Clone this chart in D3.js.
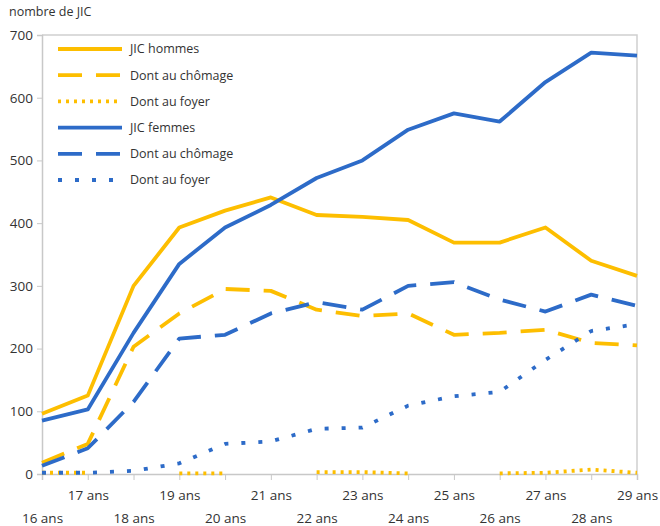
<!DOCTYPE html>
<html>
<head>
<meta charset="utf-8">
<script src="https://cdn.jsdelivr.net/npm/d3@7"></script>
<style>
  body { margin: 0; background: #fff; }
  text { font-family: "Open Sans", sans-serif; fill: #333; }
</style>
</head>
<body>
<div id="chart"></div>
<script>
// ages (categories)
var ages = ["16 ans","17 ans","18 ans","19 ans","20 ans","21 ans","22 ans","23 ans","24 ans","25 ans","26 ans","27 ans","28 ans","29 ans"];

// series values (null = no value)
var hommes        = [96, 125, 300, 393, 420, 441, 413, 410, 405, 369, 369, 393, 340, 316];
var hommesChomage = [18, 48, 203, 256, 295, 292, 262, 252, 256, 222, 225, 230, 209, 205];
var hommesFoyer   = [2, 2, null, 1, 1, null, 3, 3, 1, null, 1, 2, 7, 2];
var femmes        = [85, 103, 225, 335, 393, 429, 472, 500, 549, 575, 562, 625, 672, 667];
var femmesChomage = [13, 41, 115, 216, 222, 256, 274, 262, 300, 306, 278, 259, 286, 268];
var femmesFoyer   = [2, 2, 5, 17, 48, 52, 72, 74, 109, 124, 131, 182, 228, 239];

var yTicks = [0, 100, 200, 300, 400, 500, 600, 700];

var yellow = "#fdbe00", blue = "#2d6bc8";

var series = [
    {name: "JIC hommes", values: hommes, color: yellow, dash: null},
    {name: "Dont au chômage", values: hommesChomage, color: yellow, dash: "24,14"},
    {name: "Dont au foyer", values: hommesFoyer, color: yellow, dash: "3,5"},
    {name: "JIC femmes", values: femmes, color: blue, dash: null},
    {name: "Dont au chômage", values: femmesChomage, color: blue, dash: "24,14"},
    {name: "Dont au foyer", values: femmesFoyer, color: blue, dash: "4,13"}
];

var margin = {top: 35, right: 23, bottom: 52, left: 42},
    width = 660 - margin.left - margin.right,
    height = 526 - margin.top - margin.bottom;

var svg = d3.select("#chart").append("svg")
    .attr("width", 660)
    .attr("height", 526);

svg.append("text")
    .attr("x", 9)
    .attr("y", 16)
    .style("font-size", "12.5px")
    .text("nombre de JIC");

var g = svg.append("g")
    .attr("transform", "translate(" + margin.left + "," + margin.top + ")");

var x = d3.scalePoint().domain(ages).range([0, width]);
var y = d3.scaleLinear().domain([0, 700]).range([height, 0]);

// frame (top and right)
g.append("path")
    .attr("d", "M0,0H" + width + "V" + height)
    .attr("fill", "none")
    .attr("stroke", "#d0d0d0")
    .attr("stroke-width", 1.5);

// y axis
var yAxis = g.append("g")
    .call(d3.axisLeft(y).tickValues(yTicks).tickSize(5).tickPadding(4));
yAxis.select(".domain").attr("stroke", "#c8c8c8").attr("stroke-width", 1.5);
yAxis.selectAll(".tick line").attr("stroke", "#c8c8c8");
yAxis.selectAll("text").style("font-size", "13.5px").attr("fill", "#333");

// x axis, labels alternate on two rows
var xAxis = g.append("g")
    .attr("transform", "translate(0," + height + ")")
    .call(d3.axisBottom(x).tickSize(6).tickPadding(0));
xAxis.select(".domain").attr("stroke", "#c8c8c8").attr("stroke-width", 1.5);
xAxis.selectAll(".tick line").attr("stroke", "#c8c8c8");
xAxis.selectAll("text")
    .style("font-size", "13.5px")
    .attr("fill", "#333")
    .attr("dy", null)
    .attr("y", function(d, i) { return i % 2 == 1 ? 26 : 49; });

// lines
var line = d3.line()
    .defined(function(d) { return d != null; })
    .x(function(d, i) { return x(ages[i]); })
    .y(function(d) { return y(d); });

series.forEach(function(s) {
    g.append("path")
        .datum(s.values)
        .attr("fill", "none")
        .attr("stroke", s.color)
        .attr("stroke-width", 3.8)
        .attr("stroke-linejoin", "round")
        .attr("stroke-dasharray", s.dash)
        .attr("d", line);
});

// legend
var legend = g.append("g").attr("transform", "translate(16,14)");
series.forEach(function(s, i) {
    var row = legend.append("g").attr("transform", "translate(0," + (i * 26.2) + ")");
    row.append("line")
        .attr("x1", 0).attr("x2", 64)
        .attr("stroke", s.color)
        .attr("stroke-width", 3.8)
        .attr("stroke-dasharray", s.dash);
    row.append("text")
        .attr("x", 72)
        .attr("dy", "0.35em")
        .style("font-size", "12.5px")
        .text(s.name);
});
</script>
</body>
</html>
